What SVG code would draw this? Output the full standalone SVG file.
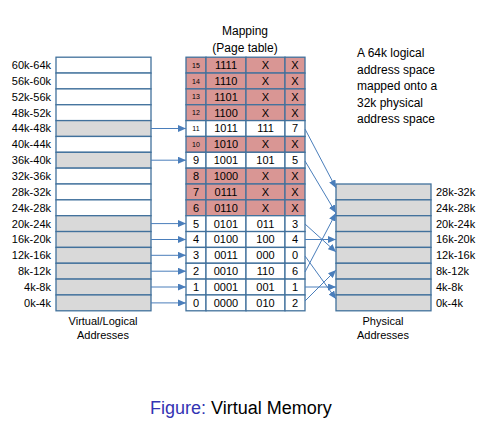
<svg xmlns="http://www.w3.org/2000/svg" width="488" height="438" viewBox="0 0 488 438">
<style>
text{font-family:"Liberation Sans",Arial,sans-serif;fill:#000}
.lbl{font-size:11px}
.r{text-anchor:end}
.m{text-anchor:middle}
.t{font-size:12px}
.cell{stroke:#41719C;stroke-width:1.3}
.w{fill:#FFFFFF}
.g{fill:#D9D9D9}
.p{fill:#D99694}
.sm{font-size:7px}
.conn line{stroke:#4A7EBB;stroke-width:1;marker-end:url(#ah)}
</style>
<defs>
<marker id="ah" markerUnits="userSpaceOnUse" markerWidth="8" markerHeight="7" refX="8" refY="3.5" orient="auto">
<path d="M0,0 L8,3.5 L0,7 z" fill="#4A7EBB"/>
</marker>
</defs>
<rect width="488" height="438" fill="#FFFFFF"/>

<g id="virtual">
<rect class="cell w" x="56" y="57.2" width="95" height="15.85"/>
<rect class="cell w" x="56" y="73.05" width="95" height="15.85"/>
<rect class="cell w" x="56" y="88.9" width="95" height="15.85"/>
<rect class="cell w" x="56" y="104.75" width="95" height="15.85"/>
<rect class="cell g" x="56" y="120.6" width="95" height="15.85"/>
<rect class="cell w" x="56" y="136.45" width="95" height="15.85"/>
<rect class="cell g" x="56" y="152.3" width="95" height="15.85"/>
<rect class="cell w" x="56" y="168.15" width="95" height="15.85"/>
<rect class="cell w" x="56" y="184" width="95" height="15.85"/>
<rect class="cell w" x="56" y="199.85" width="95" height="15.85"/>
<rect class="cell g" x="56" y="215.7" width="95" height="15.85"/>
<rect class="cell g" x="56" y="231.55" width="95" height="15.85"/>
<rect class="cell g" x="56" y="247.4" width="95" height="15.85"/>
<rect class="cell g" x="56" y="263.25" width="95" height="15.85"/>
<rect class="cell g" x="56" y="279.1" width="95" height="15.85"/>
<rect class="cell g" x="56" y="294.95" width="95" height="15.85"/>
<text class="lbl r" x="51" y="69">60k-64k</text>
<text class="lbl r" x="51" y="84.9">56k-60k</text>
<text class="lbl r" x="51" y="100.7">52k-56k</text>
<text class="lbl r" x="51" y="116.6">48k-52k</text>
<text class="lbl r" x="51" y="132.4">44k-48k</text>
<text class="lbl r" x="51" y="148.3">40k-44k</text>
<text class="lbl r" x="51" y="164.1">36k-40k</text>
<text class="lbl r" x="51" y="180">32k-36k</text>
<text class="lbl r" x="51" y="195.8">28k-32k</text>
<text class="lbl r" x="51" y="211.7">24k-28k</text>
<text class="lbl r" x="51" y="227.5">20k-24k</text>
<text class="lbl r" x="51" y="243.4">16k-20k</text>
<text class="lbl r" x="51" y="259.2">12k-16k</text>
<text class="lbl r" x="51" y="275.1">8k-12k</text>
<text class="lbl r" x="51" y="290.9">4k-8k</text>
<text class="lbl r" x="51" y="306.8">0k-4k</text>
<text class="lbl m" x="103" y="325">Virtual/Logical</text>
<text class="lbl m" x="103" y="339">Addresses</text>
</g>

<g id="pagetable">
<text class="t m" x="245" y="35">Mapping</text>
<text class="t m" x="245" y="51.5">(Page table)</text>
<g class="cell">
<rect class="p" x="186" y="57.2" width="20" height="15.85"/><rect class="p" x="206" y="57.2" width="40" height="15.85"/><rect class="p" x="246" y="57.2" width="39" height="15.85"/><rect class="p" x="285" y="57.2" width="20" height="15.85"/>
<rect class="p" x="186" y="73.05" width="20" height="15.85"/><rect class="p" x="206" y="73.05" width="40" height="15.85"/><rect class="p" x="246" y="73.05" width="39" height="15.85"/><rect class="p" x="285" y="73.05" width="20" height="15.85"/>
<rect class="p" x="186" y="88.9" width="20" height="15.85"/><rect class="p" x="206" y="88.9" width="40" height="15.85"/><rect class="p" x="246" y="88.9" width="39" height="15.85"/><rect class="p" x="285" y="88.9" width="20" height="15.85"/>
<rect class="p" x="186" y="104.75" width="20" height="15.85"/><rect class="p" x="206" y="104.75" width="40" height="15.85"/><rect class="p" x="246" y="104.75" width="39" height="15.85"/><rect class="p" x="285" y="104.75" width="20" height="15.85"/>
<rect class="w" x="186" y="120.6" width="20" height="15.85"/><rect class="w" x="206" y="120.6" width="40" height="15.85"/><rect class="w" x="246" y="120.6" width="39" height="15.85"/><rect class="w" x="285" y="120.6" width="20" height="15.85"/>
<rect class="p" x="186" y="136.45" width="20" height="15.85"/><rect class="p" x="206" y="136.45" width="40" height="15.85"/><rect class="p" x="246" y="136.45" width="39" height="15.85"/><rect class="p" x="285" y="136.45" width="20" height="15.85"/>
<rect class="w" x="186" y="152.3" width="20" height="15.85"/><rect class="w" x="206" y="152.3" width="40" height="15.85"/><rect class="w" x="246" y="152.3" width="39" height="15.85"/><rect class="w" x="285" y="152.3" width="20" height="15.85"/>
<rect class="p" x="186" y="168.15" width="20" height="15.85"/><rect class="p" x="206" y="168.15" width="40" height="15.85"/><rect class="p" x="246" y="168.15" width="39" height="15.85"/><rect class="p" x="285" y="168.15" width="20" height="15.85"/>
<rect class="p" x="186" y="184" width="20" height="15.85"/><rect class="p" x="206" y="184" width="40" height="15.85"/><rect class="p" x="246" y="184" width="39" height="15.85"/><rect class="p" x="285" y="184" width="20" height="15.85"/>
<rect class="p" x="186" y="199.85" width="20" height="15.85"/><rect class="p" x="206" y="199.85" width="40" height="15.85"/><rect class="p" x="246" y="199.85" width="39" height="15.85"/><rect class="p" x="285" y="199.85" width="20" height="15.85"/>
<rect class="w" x="186" y="215.7" width="20" height="15.85"/><rect class="w" x="206" y="215.7" width="40" height="15.85"/><rect class="w" x="246" y="215.7" width="39" height="15.85"/><rect class="w" x="285" y="215.7" width="20" height="15.85"/>
<rect class="w" x="186" y="231.55" width="20" height="15.85"/><rect class="w" x="206" y="231.55" width="40" height="15.85"/><rect class="w" x="246" y="231.55" width="39" height="15.85"/><rect class="w" x="285" y="231.55" width="20" height="15.85"/>
<rect class="w" x="186" y="247.4" width="20" height="15.85"/><rect class="w" x="206" y="247.4" width="40" height="15.85"/><rect class="w" x="246" y="247.4" width="39" height="15.85"/><rect class="w" x="285" y="247.4" width="20" height="15.85"/>
<rect class="w" x="186" y="263.25" width="20" height="15.85"/><rect class="w" x="206" y="263.25" width="40" height="15.85"/><rect class="w" x="246" y="263.25" width="39" height="15.85"/><rect class="w" x="285" y="263.25" width="20" height="15.85"/>
<rect class="w" x="186" y="279.1" width="20" height="15.85"/><rect class="w" x="206" y="279.1" width="40" height="15.85"/><rect class="w" x="246" y="279.1" width="39" height="15.85"/><rect class="w" x="285" y="279.1" width="20" height="15.85"/>
<rect class="w" x="186" y="294.95" width="20" height="15.85"/><rect class="w" x="206" y="294.95" width="40" height="15.85"/><rect class="w" x="246" y="294.95" width="39" height="15.85"/><rect class="w" x="285" y="294.95" width="20" height="15.85"/>
</g>
<g class="lbl m">
<text class="sm" x="196" y="67.7">15</text><text x="226" y="69">1111</text><text x="265.5" y="69">X</text><text x="295" y="69">X</text>
<text class="sm" x="196" y="83.5">14</text><text x="226" y="84.9">1110</text><text x="265.5" y="84.9">X</text><text x="295" y="84.9">X</text>
<text class="sm" x="196" y="99.4">13</text><text x="226" y="100.7">1101</text><text x="265.5" y="100.7">X</text><text x="295" y="100.7">X</text>
<text class="sm" x="196" y="115.2">12</text><text x="226" y="116.6">1100</text><text x="265.5" y="116.6">X</text><text x="295" y="116.6">X</text>
<text class="sm" x="196" y="131.1">11</text><text x="226" y="132.4">1011</text><text x="265.5" y="132.4">111</text><text x="295" y="132.4">7</text>
<text class="sm" x="196" y="146.9">10</text><text x="226" y="148.3">1010</text><text x="265.5" y="148.3">X</text><text x="295" y="148.3">X</text>
<text x="196" y="164.1">9</text><text x="226" y="164.1">1001</text><text x="265.5" y="164.1">101</text><text x="295" y="164.1">5</text>
<text x="196" y="180">8</text><text x="226" y="180">1000</text><text x="265.5" y="180">X</text><text x="295" y="180">X</text>
<text x="196" y="195.8">7</text><text x="226" y="195.8">0111</text><text x="265.5" y="195.8">X</text><text x="295" y="195.8">X</text>
<text x="196" y="211.7">6</text><text x="226" y="211.7">0110</text><text x="265.5" y="211.7">X</text><text x="295" y="211.7">X</text>
<text x="196" y="227.5">5</text><text x="226" y="227.5">0101</text><text x="265.5" y="227.5">011</text><text x="295" y="227.5">3</text>
<text x="196" y="243.4">4</text><text x="226" y="243.4">0100</text><text x="265.5" y="243.4">100</text><text x="295" y="243.4">4</text>
<text x="196" y="259.2">3</text><text x="226" y="259.2">0011</text><text x="265.5" y="259.2">000</text><text x="295" y="259.2">0</text>
<text x="196" y="275.1">2</text><text x="226" y="275.1">0010</text><text x="265.5" y="275.1">110</text><text x="295" y="275.1">6</text>
<text x="196" y="290.9">1</text><text x="226" y="290.9">0001</text><text x="265.5" y="290.9">001</text><text x="295" y="290.9">1</text>
<text x="196" y="306.8">0</text><text x="226" y="306.8">0000</text><text x="265.5" y="306.8">010</text><text x="295" y="306.8">2</text>
</g>
</g>

<g id="physical">
<rect class="cell g" x="336" y="184" width="95" height="15.85"/>
<rect class="cell g" x="336" y="199.85" width="95" height="15.85"/>
<rect class="cell g" x="336" y="215.7" width="95" height="15.85"/>
<rect class="cell g" x="336" y="231.55" width="95" height="15.85"/>
<rect class="cell g" x="336" y="247.4" width="95" height="15.85"/>
<rect class="cell g" x="336" y="263.25" width="95" height="15.85"/>
<rect class="cell g" x="336" y="279.1" width="95" height="15.85"/>
<rect class="cell g" x="336" y="294.95" width="95" height="15.85"/>
<text class="lbl" x="436" y="195.8">28k-32k</text>
<text class="lbl" x="436" y="211.7">24k-28k</text>
<text class="lbl" x="436" y="227.5">20k-24k</text>
<text class="lbl" x="436" y="243.4">16k-20k</text>
<text class="lbl" x="436" y="259.2">12k-16k</text>
<text class="lbl" x="436" y="275.1">8k-12k</text>
<text class="lbl" x="436" y="290.9">4k-8k</text>
<text class="lbl" x="436" y="306.8">0k-4k</text>
<text class="lbl m" x="383" y="325">Physical</text>
<text class="lbl m" x="383" y="339">Addresses</text>
</g>

<g id="note" class="t">
<text x="357" y="57">A 64k logical</text>
<text x="357" y="73.5">address space</text>
<text x="357" y="90">mapped onto a</text>
<text x="357" y="106.5">32k physical</text>
<text x="357" y="123">address space</text>
</g>

<g id="connectors" class="conn">
<line x1="151" y1="128.5" x2="186" y2="128.5"/>
<line x1="151" y1="160.2" x2="186" y2="160.2"/>
<line x1="151" y1="223.6" x2="186" y2="223.6"/>
<line x1="151" y1="239.5" x2="186" y2="239.5"/>
<line x1="151" y1="255.3" x2="186" y2="255.3"/>
<line x1="151" y1="271.2" x2="186" y2="271.2"/>
<line x1="151" y1="287" x2="186" y2="287"/>
<line x1="151" y1="302.9" x2="186" y2="302.9"/>
<line x1="305" y1="129" x2="336" y2="188"/>
<line x1="305" y1="161" x2="336" y2="213"/>
<line x1="305" y1="224" x2="336" y2="252"/>
<line x1="305" y1="239.5" x2="336" y2="239.5"/>
<line x1="305" y1="256" x2="336" y2="299"/>
<line x1="305" y1="272" x2="336" y2="213"/>
<line x1="305" y1="287" x2="336" y2="287"/>
<line x1="305" y1="301" x2="336" y2="270"/>
</g>

<g id="caption">
<text x="150" y="413.5" style="font-size:18px"><tspan fill="#3333B3" style="fill:#3333B3">Figure:</tspan> Virtual Memory</text>
</g>
</svg>
